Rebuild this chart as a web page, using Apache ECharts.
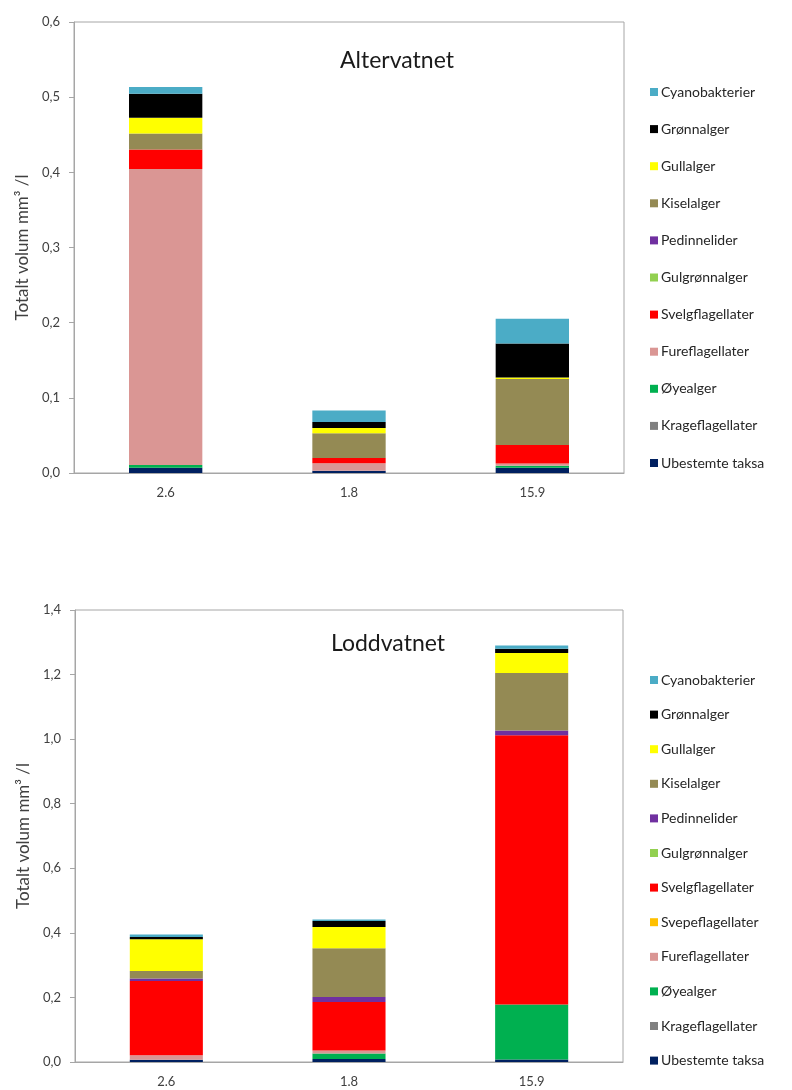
<!DOCTYPE html>
<html>
<head>
<meta charset="utf-8">
<script src="https://cdn.jsdelivr.net/npm/echarts@6/dist/echarts.min.js"></script>
<style>
  html, body { margin: 0; padding: 0; background: #fff; }
  #chart { width: 792px; height: 1090px; }
</style>
</head>
<body>
<div id="chart"></div>
<script>
// Depths (m) shown as categories on both panels
const depths = ['2.6', '1.8', '15.9'];

// Taxa, drawn bottom-up in the stack
const taxa = ['Ubestemte taksa', 'Krageflagellater', 'Øyealger', 'Fureflagellater', 'Svepeflagellater',
  'Svelgflagellater', 'Gulgrønnalger', 'Pedinnelider', 'Kiselalger', 'Gullalger', 'Grønnalger', 'Cyanobakterier'];

const taxaColors = {
  'Ubestemte taksa': '#002060',
  'Krageflagellater': '#808080',
  'Øyealger': '#00B050',
  'Fureflagellater': '#DA9694',
  'Svepeflagellater': '#FFC000',
  'Svelgflagellater': '#FF0000',
  'Gulgrønnalger': '#92D050',
  'Pedinnelider': '#7030A0',
  'Kiselalger': '#948A54',
  'Gullalger': '#FFFF00',
  'Grønnalger': '#000000',
  'Cyanobakterier': '#4BACC6'
};

// Altervatnet — total volume mm³/l per taxon
const alterUbestemte = [0.007, 0.003, 0.007];
const alterKrage = [0, 0, 0];
const alterOye = [0.0035, 0, 0.0026];
const alterFure = [0.394, 0.010, 0.0032];
const alterSvelg = [0.026, 0.007, 0.0244];
const alterGulgronn = [0, 0, 0];
const alterPedinnelider = [0, 0, 0];
const alterKisel = [0.021, 0.033, 0.088];
const alterGull = [0.021, 0.007, 0.002];
const alterGronn = [0.032, 0.008, 0.045];
const alterCyano = [0.009, 0.015, 0.033];

// Loddvatnet — total volume mm³/l per taxon
const loddUbestemte = [0.007, 0.009, 0.008];
const loddKrage = [0, 0, 0];
const loddOye = [0, 0.017, 0.170];
const loddFure = [0.014, 0.010, 0];
const loddSvepe = [0, 0, 0];
const loddSvelg = [0.230, 0.150, 0.834];
const loddGulgronn = [0, 0, 0];
const loddPedinnelider = [0.0075, 0.0155, 0.015];
const loddKisel = [0.0235, 0.151, 0.178];
const loddGull = [0.098, 0.066, 0.062];
const loddGronn = [0.0075, 0.0185, 0.013];
const loddCyano = [0.0075, 0.0045, 0.010];

// Axis tick settings
const alterTicks = { min: 0, max: 0.6, interval: 0.1 };
const loddTicks = { min: 0, max: 1.4, interval: 0.2 };

const alterData = {
  'Ubestemte taksa': alterUbestemte, 'Krageflagellater': alterKrage, 'Øyealger': alterOye,
  'Fureflagellater': alterFure, 'Svelgflagellater': alterSvelg, 'Gulgrønnalger': alterGulgronn,
  'Pedinnelider': alterPedinnelider, 'Kiselalger': alterKisel, 'Gullalger': alterGull,
  'Grønnalger': alterGronn, 'Cyanobakterier': alterCyano
};
const loddData = {
  'Ubestemte taksa': loddUbestemte, 'Krageflagellater': loddKrage, 'Øyealger': loddOye,
  'Fureflagellater': loddFure, 'Svepeflagellater': loddSvepe, 'Svelgflagellater': loddSvelg,
  'Gulgrønnalger': loddGulgronn, 'Pedinnelider': loddPedinnelider, 'Kiselalger': loddKisel,
  'Gullalger': loddGull, 'Grønnalger': loddGronn, 'Cyanobakterier': loddCyano
};

const FONT = 'Lato, "Open Sans", sans-serif';
const textCol = '#404040';
const borderCol = '#a6a6a6';

function makeSeries(dataMap, idx, stackName) {
  return taxa.filter(t => t in dataMap).map(t => ({
    name: t,
    type: 'bar',
    stack: stackName,
    xAxisIndex: idx,
    yAxisIndex: idx,
    barWidth: '40%',
    itemStyle: { color: taxaColors[t] },
    data: dataMap[t]
  }));
}

function xAxisFor(idx) {
  return {
    type: 'category',
    gridIndex: idx,
    data: depths,
    axisLine: { lineStyle: { color: borderCol, width: 1 } },
    axisTick: { show: false },
    axisLabel: { color: textCol, fontFamily: FONT, fontSize: 13, margin: 13 }
  };
}

function yAxisFor(idx, ticks) {
  return {
    type: 'value',
    gridIndex: idx,
    min: ticks.min, max: ticks.max, interval: ticks.interval,
    name: 'Totalt volum mm³ /l',
    nameLocation: 'middle',
    nameGap: 42,
    nameRotate: 90,
    nameTextStyle: { color: textCol, fontFamily: FONT, fontSize: 17 },
    splitLine: { show: false },
    axisLine: { show: true, lineStyle: { color: borderCol, width: 1 } },
    axisTick: { show: true, length: 5, lineStyle: { color: borderCol } },
    axisLabel: {
      color: textCol, fontFamily: FONT, fontSize: 13, margin: 14,
      formatter: v => v.toFixed(1).replace('.', ',')
    }
  };
}

function legendFor(dataMap, top, gap) {
  return {
    orient: 'vertical',
    left: 645,
    top: top,
    itemWidth: 8,
    itemHeight: 8,
    itemGap: gap,
    icon: 'rect',
    selectedMode: false,
    textStyle: { color: '#262626', fontFamily: FONT, fontSize: 14, lineHeight: 16, padding: [0, 0, 0, -2] },
    data: taxa.filter(t => t in dataMap).slice().reverse()
  };
}

const chart = echarts.init(document.getElementById('chart'), null, { renderer: 'canvas' });
chart.setOption({
  backgroundColor: '#ffffff',
  animation: false,
  title: [
    { text: 'Altervatnet', left: 392, top: 44, textAlign: 'center',
      textStyle: { color: '#1a1a1a', fontFamily: FONT, fontSize: 23, fontWeight: 'normal' } },
    { text: 'Loddvatnet', left: 383, top: 627, textAlign: 'center',
      textStyle: { color: '#1a1a1a', fontFamily: FONT, fontSize: 23, fontWeight: 'normal' } }
  ],
  legend: [
    legendFor(alterData, 79, 21.1),
    legendFor(loddData, 667, 18.6)
  ],
  grid: [
    { left: 74, top: 22, width: 550, height: 451, show: true, borderColor: borderCol, borderWidth: 1, containLabel: false },
    { left: 75, top: 610, width: 548, height: 452, show: true, borderColor: borderCol, borderWidth: 1, containLabel: false }
  ],
  xAxis: [xAxisFor(0), xAxisFor(1)],
  yAxis: [yAxisFor(0, alterTicks), yAxisFor(1, loddTicks)],
  series: [...makeSeries(alterData, 0, 'alter'), ...makeSeries(loddData, 1, 'lodd')]
});
</script>
</body>
</html>
